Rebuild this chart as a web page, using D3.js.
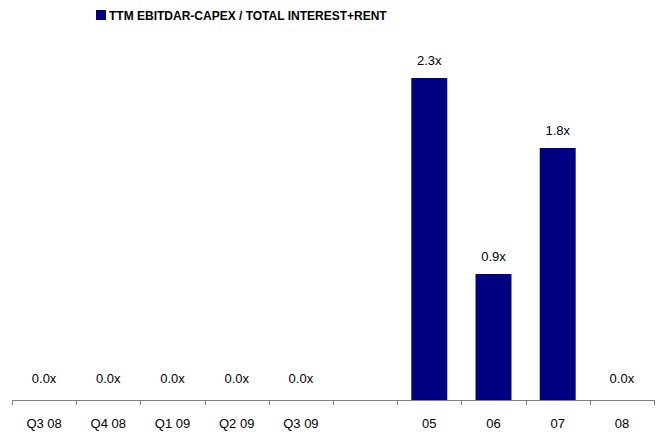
<!DOCTYPE html>
<html>
<head>
<meta charset="utf-8">
<script src="https://cdn.jsdelivr.net/npm/d3@7"></script>
<style>
  html, body { margin: 0; padding: 0; background: #fff; }
  svg { display: block; font-family: "Liberation Sans", Arial, sans-serif; }
</style>
</head>
<body>
<svg id="chart" width="668" height="432"></svg>
<script>
// Coverage ratio by period; the blank category is a spacer between quarterly and annual figures
const categories = ["Q3 08", "Q4 08", "Q1 09", "Q2 09", "Q3 09", "", "05", "06", "07", "08"];
const values = [0.0, 0.0, 0.0, 0.0, 0.0, null, 2.3, 0.9, 1.8, 0.0];
const seriesName = "TTM EBITDAR-CAPEX / TOTAL INTEREST+RENT";
const barColor = "#000080";

const svg = d3.select("#chart");
const margin = { left: 12, right: 14, top: 0, bottom: 32 };
const width = 668, height = 432;
const baseline = 400;

const x = d3.scaleBand()
  .domain(categories.map((c, i) => i))
  .range([margin.left, width - margin.right])
  .paddingInner(0.44)
  .paddingOuter(0.22);

const step = x.step();
const y = d3.scaleLinear().domain([0, 2.3]).range([baseline, baseline - 2.3 * 140]);

// Legend / title
const legend = svg.append("g");
legend.append("rect")
  .attr("x", 96).attr("y", 10).attr("width", 10).attr("height", 10)
  .attr("fill", barColor);
legend.append("text")
  .attr("x", 109).attr("y", 19.5)
  .attr("font-size", 12).attr("font-weight", "bold")
  .attr("fill", "#000")
  .text(seriesName);

// Bars
const data = categories.map((c, i) => ({ c, i, v: values[i] }));
svg.append("g").selectAll("rect")
  .data(data.filter(d => d.v !== null && d.v > 0))
  .join("rect")
  .attr("x", d => x(d.i))
  .attr("width", x.bandwidth())
  .attr("y", d => y(d.v))
  .attr("height", d => y(0) - y(d.v))
  .attr("fill", barColor);

// Value labels
svg.append("g").selectAll("text")
  .data(data.filter(d => d.v !== null))
  .join("text")
  .attr("x", d => x(d.i) + x.bandwidth() / 2)
  .attr("y", d => y(d.v) - (d.v > 0 ? 13 : 17))
  .attr("text-anchor", "middle")
  .attr("font-size", 13)
  .attr("fill", "#000")
  .text(d => d.v.toFixed(1) + "x");

// Category axis with ticks between categories
const axisG = svg.append("g");
const x0 = margin.left, x1 = width - margin.right;
axisG.append("line")
  .attr("x1", x0).attr("x2", x1)
  .attr("y1", baseline + 0.5).attr("y2", baseline + 0.5)
  .attr("stroke", "#808080").attr("stroke-width", 1);
const tickPos = d3.range(categories.length + 1).map(i => x0 + i * step);
axisG.selectAll("line.tick")
  .data(tickPos)
  .join("line")
  .attr("class", "tick")
  .attr("x1", d => Math.round(d) + 0.5).attr("x2", d => Math.round(d) + 0.5)
  .attr("y1", baseline).attr("y2", baseline + 5)
  .attr("stroke", "#808080").attr("stroke-width", 1);
axisG.selectAll("text")
  .data(data)
  .join("text")
  .attr("x", d => x(d.i) + x.bandwidth() / 2)
  .attr("y", baseline + 27.5)
  .attr("text-anchor", "middle")
  .attr("font-size", 13)
  .attr("fill", "#000")
  .text(d => d.c);
</script>
</body>
</html>
